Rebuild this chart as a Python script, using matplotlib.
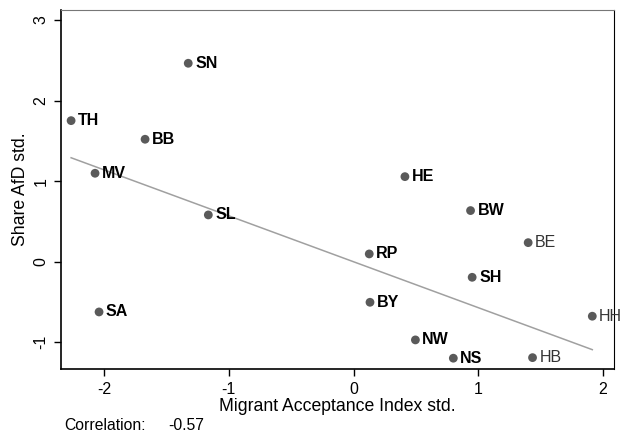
import numpy as np
import matplotlib.pyplot as plt

plt.rcParams['font.family'] = ['Liberation Sans', 'DejaVu Sans']
plt.rcParams['axes.unicode_minus'] = False

# state abbreviations and standardised values
states = ["SN", "TH", "BB", "MV", "SL", "SA", "HE", "BW", "BE",
          "RP", "SH", "BY", "HH", "NW", "NS", "HB"]
acceptance = [-1.325, -2.264, -1.671, -2.072, -1.164, -2.04, 0.412, 0.938, 1.40,
              0.126, 0.951, 0.132, 1.914, 0.496, 0.80, 1.435]
afd_share = [2.463, 1.751, 1.52, 1.098, 0.581, -0.623, 1.056, 0.635, 0.237,
             0.097, -0.193, -0.503, -0.676, -0.97, -1.197, -1.19]
# city states are drawn with plain labels
plain = ["BE", "HH", "HB"]
correlation = -0.57

x = np.array(acceptance)
y = np.array(afd_share)

fig = plt.figure(figsize=(6.3, 4.38), dpi=100)
ax = fig.add_axes([61/630, 1-369/438, (614-61)/630, (369-10)/438])

# fit line for standardised variables: slope = correlation
xs = np.array([x.min(), x.max()])
ax.plot(xs, correlation*xs, color="#a0a0a0", lw=1.1, zorder=1)

ax.scatter(x, y, s=40, color="#5a5a5a", edgecolors="none", zorder=2)
for s, xi, yi in zip(states, x, y):
    if s in plain:
        ax.annotate(s, (xi, yi), xytext=(5, 0), textcoords="offset points",
                    va="center", ha="left", fontsize=11.5, color="#333333")
    else:
        ax.annotate(s, (xi, yi), xytext=(5, 0), textcoords="offset points",
                    va="center", ha="left", fontsize=11.5, color="black",
                    fontweight="bold")

ax.set_xlim(-2.345, 2.088)
ax.set_ylim(-1.331, 3.124)
ax.set_xticks([-2, -1, 0, 1, 2])
ax.set_yticks([-1, 0, 1, 2, 3])
ax.tick_params(labelsize=11.5, length=5, width=1, colors="black", pad=4)
plt.setp(ax.get_yticklabels(), rotation=90, va="center")

for side in ["left", "bottom"]:
    ax.spines[side].set_linewidth(1.2)
    ax.spines[side].set_color("black")
ax.spines["top"].set_color("#777777")
ax.spines["right"].set_color("black")

ax.set_xlabel("Migrant Acceptance Index std.", fontsize=12.7, labelpad=1)
ax.set_ylabel("Share AfD std.", fontsize=12.7, labelpad=3)

fig.text(64/630, 1-425/438, "Correlation:", fontsize=11.3, va="center")
fig.text(168/630, 1-425/438, "%.2f" % correlation, fontsize=11.3, va="center")

fig.savefig("out.png", dpi=100)
